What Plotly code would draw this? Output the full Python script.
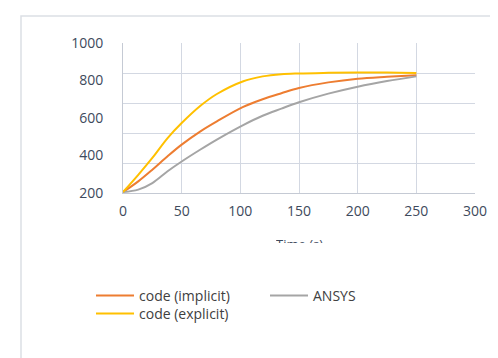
import plotly.graph_objects as go

time_s = [0, 13, 25, 38, 50, 66, 80, 102, 119, 135, 150, 175, 200, 225, 250]
code_implicit = [205, 262, 324, 396, 458, 529, 582, 658, 700, 732, 760, 790, 810, 820, 828]
ansys = [205, 218, 253, 316, 368, 432, 485, 561, 612, 650, 684, 730, 767, 797, 822]
code_explicit = [205, 297, 387, 493, 573, 665, 728, 795, 822, 834, 838, 841, 843, 843, 840]

y_ticks = [200, 400, 600, 800, 1000]
y_grid = [200, 360, 520, 680, 840, 1000]
x_ticks = [0, 50, 100, 150, 200, 250, 300]
x_labels = ["0", "50", "100", "150", "200", "250", "300"]

font_family = "Open Sans, Liberation Sans, sans-serif"
tick_color = "#3e4a5c"
leg_color = "#404040"
grid_color = "#d3d8e2"

PL, PR, PT, PB = 115, 467, 35, 185
W, H = 498, 358
pw, ph = PR - PL, PB - PT

fig = go.Figure()
fig.add_trace(go.Scatter(x=time_s, y=code_implicit, mode="lines", name="code (implicit)",
                         legend="legend",
                         line=dict(color="#ED7D31", width=2, shape="spline", smoothing=1.0)))
fig.add_trace(go.Scatter(x=time_s, y=ansys, mode="lines", name="ANSYS",
                         legend="legend3",
                         line=dict(color="#A5A5A5", width=2, shape="spline", smoothing=1.0)))
fig.add_trace(go.Scatter(x=time_s, y=code_explicit, mode="lines", name="code (explicit)",
                         legend="legend2",
                         line=dict(color="#FFC000", width=2, shape="spline", smoothing=1.0)))

leg_common = dict(orientation="h", xref="container", yref="container",
                  xanchor="left", yanchor="top", itemwidth=38,
                  font=dict(size=14, color=leg_color),
                  bgcolor="rgba(0,0,0,0)")

fig.update_layout(
    width=W, height=H,
    margin=dict(l=PL, r=W - PR, t=PT, b=H - PB),
    paper_bgcolor="white", plot_bgcolor="white",
    font=dict(family=font_family, size=13, color=tick_color),
    showlegend=True,
    legend=dict(x=83/W, y=1-272/H, **leg_common),
    legend3=dict(x=257/W, y=1-272/H, **leg_common),
    legend2=dict(x=83/W, y=1-290/H, **leg_common),
    xaxis=dict(range=[0, 300], tickvals=x_ticks, ticktext=x_labels,
               showgrid=True, gridcolor=grid_color, gridwidth=1,
               showline=True, linecolor="#c5cad4", linewidth=1,
               zeroline=False, ticks="", ticklabelstandoff=5,
               tickfont=dict(size=14, color=tick_color)),
    yaxis=dict(range=[200, 1000], tickvals=y_ticks,
               showgrid=False,
               minor=dict(tickvals=y_grid, showgrid=True, gridcolor=grid_color, gridwidth=1, ticks=""),
               showline=True, linecolor="#c5cad4", linewidth=1,
               zeroline=False, ticks="", ticklabelstandoff=16,
               tickfont=dict(size=14, color=tick_color)),
    shapes=[dict(type="rect", xref="paper", yref="paper",
                 x0=(13-PL)/pw, x1=(530-PL)/pw,
                 y0=(PB-356)/ph, y1=(PB-8)/ph,
                 line=dict(color="#dcdfe5", width=1.5), fillcolor="rgba(0,0,0,0)",
                 layer="above")],
    annotations=[dict(text="Time (s)", xref="paper", yref="paper",
                      x=0.5, y=(PB-225)/ph, xanchor="center", yanchor="top",
                      showarrow=False, height=8, valign="top",
                      font=dict(size=13, color=tick_color))],
)

fig.write_html("out.html")
